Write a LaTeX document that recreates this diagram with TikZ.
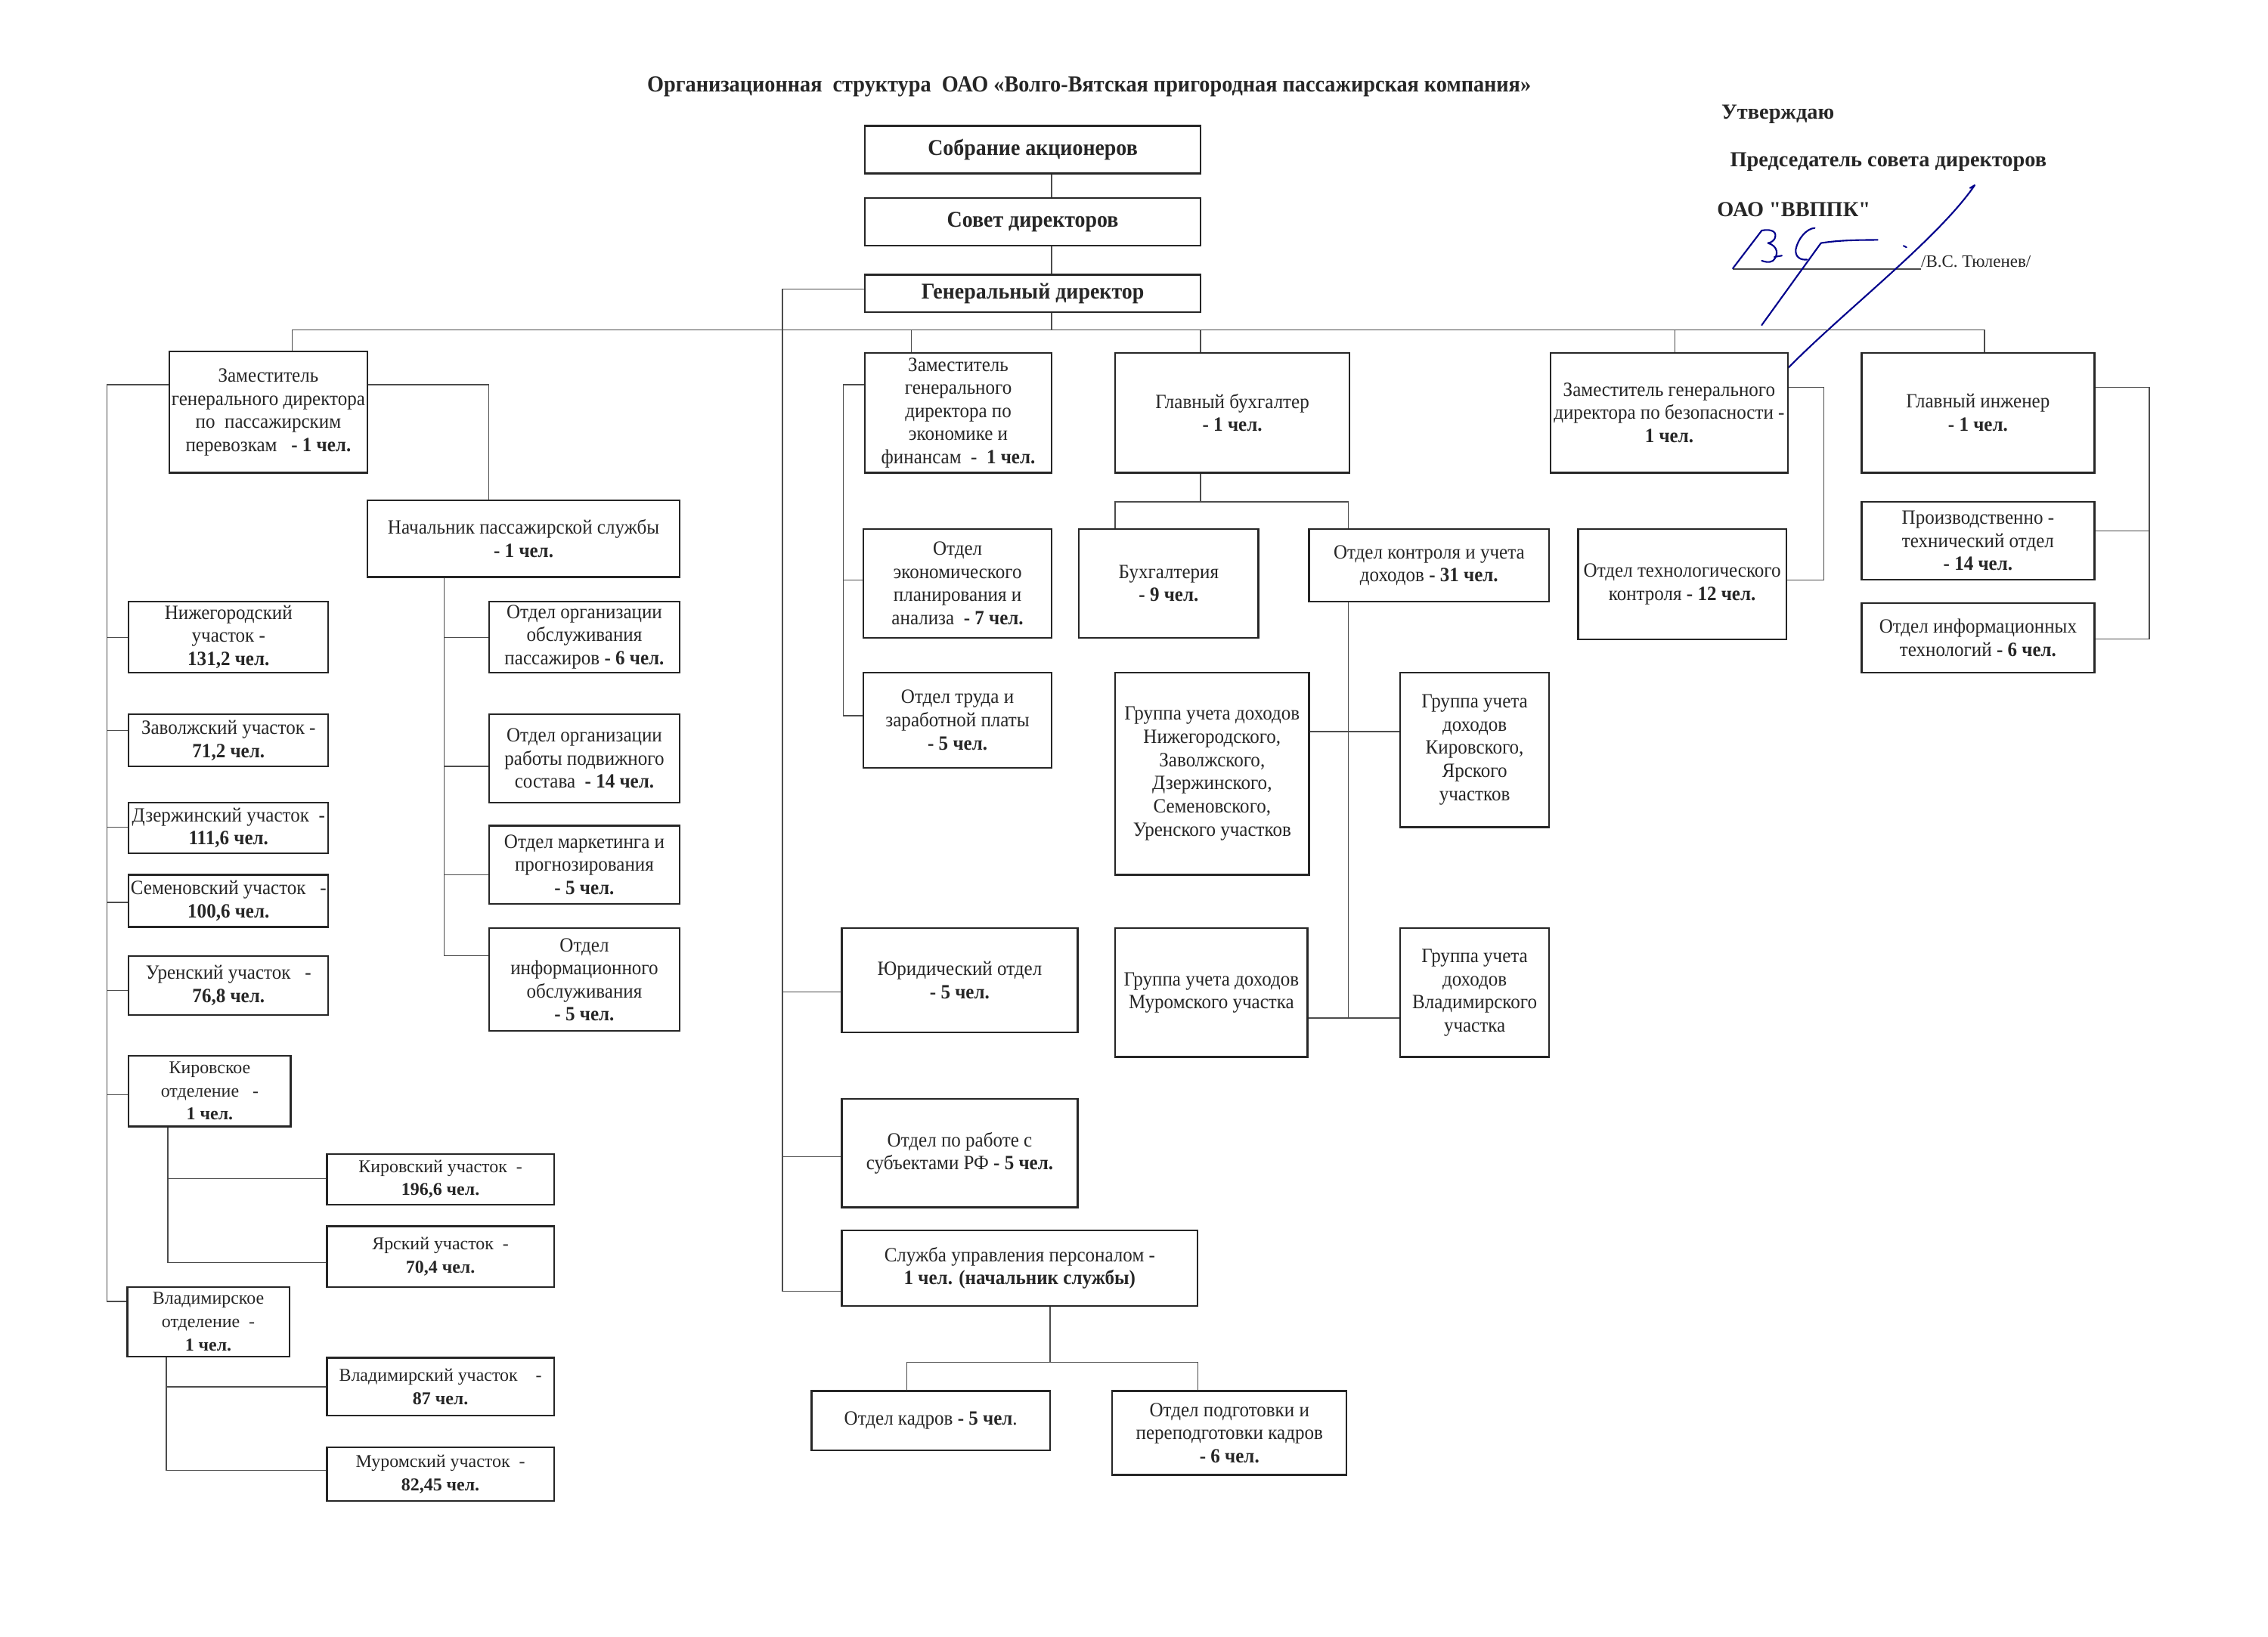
\documentclass[tikz,border=0pt]{standalone}
\usepackage{fontspec}
\setmainfont{Liberation Serif}
\newfontfamily\cond{Liberation Serif}[FakeStretch=0.935]
\newfontfamily\rawserif{Liberation Serif}[Ligatures=TeXOff]
\usetikzlibrary{calc}
\tikzset{
  box/.style={draw=black!85, line width=1.2pt, align=center, inner sep=1pt,
    font=\cond\fontsize{14}{16}\selectfont, text=black!85},
  nbox/.style={font=\fontsize{12.5}{16}\selectfont},
  bbox/.style={font=\cond\bfseries\fontsize{15.6}{17}\selectfont},
  conn/.style={draw=black!70, line width=0.7pt},
  sig/.style={draw=blue!55!black, line width=1.1pt, line cap=round, line join=round},
  hdr/.style={anchor=west, inner sep=0pt, text=black!85, font=\bfseries\fontsize{14.8}{16}\selectfont},
}
\newcommand\obox[7][]{%
  \pgfmathsetmacro\obw{#5-#3}\pgfmathsetmacro\obh{#6-#4}%
  \node[box,#1,minimum width=\obw pt,minimum height=\obh pt] (#2) at ({(#3+#5)/2},{(#4+#6)/2}) {#7};}
\begin{document}
\begin{tikzpicture}[x=1pt,y=-1pt]
\useasboundingbox[fill=white] (0,0) rectangle (1568,1132);

% title and approval
\node[text=black!85, font=\cond\bfseries\fontsize{15.8}{18}\selectfont] (title) at (753,60)
  {Организационная\ \ структура\ \ ОАО «Волго-Вятская пригородная пассажирская компания»};
\node[hdr] (utv) at (1190,79) {Утверждаю};
\node[hdr] (pred) at (1196,112) {Председатель совета директоров};
\node[hdr, font=\rawserif\bfseries\fontsize{14.8}{16}\selectfont] (oao) at (1187,145) {ОАО "ВВППК"};
\node[anchor=base west, inner sep=0pt, text=black!85, font=\fontsize{12}{14}\selectfont] (fio) at (1328,185) {/В.С. Тюленев/};
\coordinate (sl) at (1198,186);
\draw[conn] (sl) -- (sl -| fio.west);
% signature
\draw[sig] (1198,185.6) -- (1218,159.4) .. controls (1226,158) and (1229,161) .. (1226.7,165.5)
  .. controls (1225,168) and (1222,168) .. (1222.3,168.1)
  .. controls (1229,170) and (1230,176) .. (1225.8,180.3) .. controls (1223,182) and (1220,181) .. (1218,180.3);
\draw[sig] (1226.7,177.7) -- (1231.9,176.8);
\draw[sig] (1254.6,157.7) .. controls (1249,158) and (1243,165) .. (1241.5,172.5)
  .. controls (1241,178) and (1245,180) .. (1249.3,179.5);
\draw[sig] (1218,224.8) -- (1258.9,168.1) .. controls (1272,166) and (1285,166) .. (1298.1,165.9);
\draw[sig] (1316,170) -- (1318,171);
\draw[sig] (1362,130) -- (1365.2,128.1) .. controls (1340,165) and (1275,215) .. (1236.3,254.4);

% top chain
\obox[bbox]{sa}{598}{87}{830}{120}{Собрание акционеров}
\obox[bbox]{sd}{598}{137}{830}{170}{Совет директоров}
\obox[bbox]{gd}{598}{190}{830}{216}{Генеральный директор}

% second level
\obox{zpp}{117}{243}{254}{327}{Заместитель\\генерального директора\\по\ \ пассажирским\\перевозкам\ \ \ \textbf{- 1 чел.}}
\obox{zek}{598}{244}{727}{327}{Заместитель\\генерального\\директора по\\экономике и\\финансам\ \ -\ \ \textbf{1 чел.}}
\obox{gb}{771}{244}{933}{327}{Главный бухгалтер\\\textbf{- 1 чел.}}
\obox{zb}{1072}{244}{1236}{327}{Заместитель генерального\\директора по безопасности -\\\textbf{1 чел.}}
\obox{gi}{1287}{244}{1448}{327}{Главный инженер\\\textbf{- 1 чел.}}

% passenger branch
\obox{nps}{254}{346}{470}{399}{Начальник пассажирской службы\\\textbf{- 1 чел.}}
\obox{nizh}{89}{416}{227}{465}{Нижегородский\\участок -\\\textbf{131,2 чел.}}
\obox{zav}{89}{494}{227}{530}{Заволжский участок -\\\textbf{71,2 чел.}}
\obox{dz}{89}{555}{227}{590}{Дзержинский участок\ \ -\\\textbf{111,6 чел.}}
\obox{sem}{89}{605}{227}{641}{Семеновский участок\ \ \ -\\\textbf{100,6 чел.}}
\obox{ur}{89}{661}{227}{702}{Уренский участок\ \ \ -\\\textbf{76,8 чел.}}
\obox[nbox]{kiro}{89}{730}{201}{779}{Кировское\\отделение\ \ \ -\\\textbf{1 чел.}}
\obox[nbox]{kiru}{226}{798}{383}{833}{Кировский участок\ \ -\\\textbf{196,6 чел.}}
\obox[nbox]{yar}{226}{848}{383}{890}{Ярский участок\ \ -\\\textbf{70,4 чел.}}
\obox[nbox]{vlo}{88}{890}{200}{938}{Владимирское\\отделение\ \ -\\\textbf{1 чел.}}
\obox[nbox]{vlu}{226}{939}{383}{979}{Владимирский участок\ \ \ \ -\\\textbf{87 чел.}}
\obox[nbox]{mur}{226}{1001}{383}{1038}{Муромский участок\ \ -\\\textbf{82,45 чел.}}
\obox{oob}{338}{416}{470}{465}{Отдел организации\\обслуживания\\пассажиров \textbf{- 6 чел.}}
\obox{opr}{338}{494}{470}{555}{Отдел организации\\работы подвижного\\состава\ \ \textbf{- 14 чел.}}
\obox{mar}{338}{571}{470}{625}{Отдел маркетинга и\\прогнозирования\\\textbf{- 5 чел.}}
\obox{inf}{338}{642}{470}{713}{Отдел\\информационного\\обслуживания\\\textbf{- 5 чел.}}

% economics / accounting
\obox{ep}{597}{366}{727}{441}{Отдел\\экономического\\планирования и\\анализа\ \ \textbf{- 7 чел.}}
\obox{trud}{597}{465}{727}{531}{Отдел труда и\\заработной платы\\\textbf{- 5 чел.}}
\obox{bux}{746}{366}{870}{441}{Бухгалтерия\\\textbf{- 9 чел.}}
\obox{kon}{905}{366}{1071}{416}{Отдел контроля и учета\\доходов \textbf{- 31 чел.}}
\obox{gn}{771}{465}{905}{605}{Группа учета доходов\\Нижегородского,\\Заволжского,\\Дзержинского,\\Семеновского,\\Уренского участков}
\obox{gk}{968}{465}{1071}{572}{Группа учета\\доходов\\Кировского,\\Ярского\\участков}
\obox{gm}{771}{642}{904}{731}{Группа учета доходов\\Муромского участка}
\obox{gv}{968}{642}{1071}{731}{Группа учета\\доходов\\Владимирского\\участка}

% spine under general director
\obox{yur}{582}{642}{745}{714}{Юридический отдел\\\textbf{- 5 чел.}}
\obox{subj}{582}{760}{745}{835}{Отдел по работе с\\субъектами РФ \textbf{- 5 чел.}}
\obox{sup}{582}{851}{828}{903}{Служба управления персоналом -\\\textbf{1 чел. (начальник службы)}}
\obox{kad}{561}{962}{726}{1003}{Отдел кадров \textbf{- 5 чел}.}
\obox{podg}{769}{962}{931}{1020}{Отдел подготовки и\\переподготовки кадров\\\textbf{- 6 чел.}}

% right branches
\obox{tk}{1091}{366}{1235}{442}{Отдел технологического\\контроля \textbf{- 12 чел.}}
\obox{pto}{1287}{347}{1448}{401}{Производственно -\\технический отдел\\\textbf{- 14 чел.}}
\obox{it}{1287}{417}{1448}{465}{Отдел информационных\\технологий \textbf{- 6 чел.}}

% ---- connectors ----
\coordinate (vx) at (727,0);
\draw[conn] (sa.south -| vx) -- (sd.north -| vx);
\draw[conn] (sd.south -| vx) -- (gd.north -| vx);
\coordinate (d1) at (202,228); \coordinate (d2) at (630,228); \coordinate (d3) at (830,228);
\coordinate (d4) at (1158,228); \coordinate (d5) at (1372,228);
\draw[conn] (gd.south -| vx) -- (vx |- d1);
\draw[conn] (d1) -- (d5);
\draw[conn] (d1) -- (d1 |- zpp.north);
\draw[conn] (d2) -- (d2 |- zek.north);
\draw[conn] (d3) -- (d3 |- gb.north);
\draw[conn] (d4) -- (d4 |- zb.north);
\draw[conn] (d5) -- (d5 |- gi.north);

% left spine of deputy (passenger)
\coordinate (la) at (74,266); \coordinate (lb) at (74,900);
\draw[conn] (zpp.west |- la) -- (la) -- (lb) -- (lb -| vlo.west);
\coordinate (l1) at (74,441); \coordinate (l2) at (74,505); \coordinate (l3) at (74,572);
\coordinate (l4) at (74,624); \coordinate (l5) at (74,685); \coordinate (l6) at (74,757);
\draw[conn] (l1) -- (l1 -| nizh.west);
\draw[conn] (l2) -- (l2 -| zav.west);
\draw[conn] (l3) -- (l3 -| dz.west);
\draw[conn] (l4) -- (l4 -| sem.west);
\draw[conn] (l5) -- (l5 -| ur.west);
\draw[conn] (l6) -- (l6 -| kiro.west);
\coordinate (ra) at (338,266);
\draw[conn] (zpp.east |- ra) -- (ra) -- (ra |- nps.north);
\coordinate (nx) at (307,0); \coordinate (nend) at (307,661);
\draw[conn] (nps.south -| nx) -- (nend) -- (nend -| inf.west);
\coordinate (n1) at (307,441); \coordinate (n2) at (307,530); \coordinate (n3) at (307,605);
\draw[conn] (n1) -- (n1 -| oob.west);
\draw[conn] (n2) -- (n2 -| opr.west);
\draw[conn] (n3) -- (n3 -| mar.west);
\coordinate (kx) at (116,0); \coordinate (k1) at (116,815); \coordinate (k2) at (116,873);
\draw[conn] (kiro.south -| kx) -- (k2) -- (k2 -| yar.west);
\draw[conn] (k1) -- (k1 -| kiru.west);
\coordinate (wx) at (115,0); \coordinate (w1) at (115,959); \coordinate (w2) at (115,1017);
\draw[conn] (vlo.south -| wx) -- (w2) -- (w2 -| mur.west);
\draw[conn] (w1) -- (w1 -| vlu.west);

% economics deputy
\coordinate (ea) at (583,266); \coordinate (eb) at (583,495); \coordinate (e1) at (583,401);
\draw[conn] (zek.west |- ea) -- (ea) -- (eb) -- (eb -| trud.west);
\draw[conn] (e1) -- (e1 -| ep.west);

% chief accountant
\coordinate (bx) at (830,0); \coordinate (ba) at (771,347); \coordinate (bb) at (932,347);
\draw[conn] (gb.south -| bx) -- (bx |- ba);
\draw[conn] (ba |- bux.north) -- (ba) -- (bb) -- (bb |- kon.north);
\coordinate (cx) at (932,0); \coordinate (cc) at (932,704); \coordinate (cg) at (932,506);
\draw[conn] (kon.south -| cx) -- (cc);
\draw[conn] (gn.east |- cg) -- (gk.west |- cg);
\draw[conn] (gm.east |- cc) -- (gv.west |- cc);

% general director spine
\coordinate (st) at (541,200); \coordinate (s1) at (541,686);
\coordinate (s2) at (541,800); \coordinate (s3) at (541,893);
\draw[conn] (gd.west |- st) -- (st) -- (s3) -- (s3 -| sup.west);
\draw[conn] (s1) -- (s1 -| yur.west);
\draw[conn] (s2) -- (s2 -| subj.west);
\coordinate (ux) at (726,0); \coordinate (ua) at (627,942); \coordinate (ub) at (828,942);
\draw[conn] (sup.south -| ux) -- (ux |- ua);
\draw[conn] (ua |- kad.north) -- (ua) -- (ub) -- (ub |- podg.north);

% security deputy and chief engineer
\coordinate (za) at (1261,268); \coordinate (zc) at (1261,401);
\draw[conn] (zb.east |- za) -- (za) -- (zc) -- (zc -| tk.east);
\coordinate (ga) at (1486,268); \coordinate (gc) at (1486,442); \coordinate (g1) at (1486,367);
\draw[conn] (gi.east |- ga) -- (ga) -- (gc) -- (gc -| it.east);
\draw[conn] (g1) -- (g1 -| pto.east);
\end{tikzpicture}
\end{document}
